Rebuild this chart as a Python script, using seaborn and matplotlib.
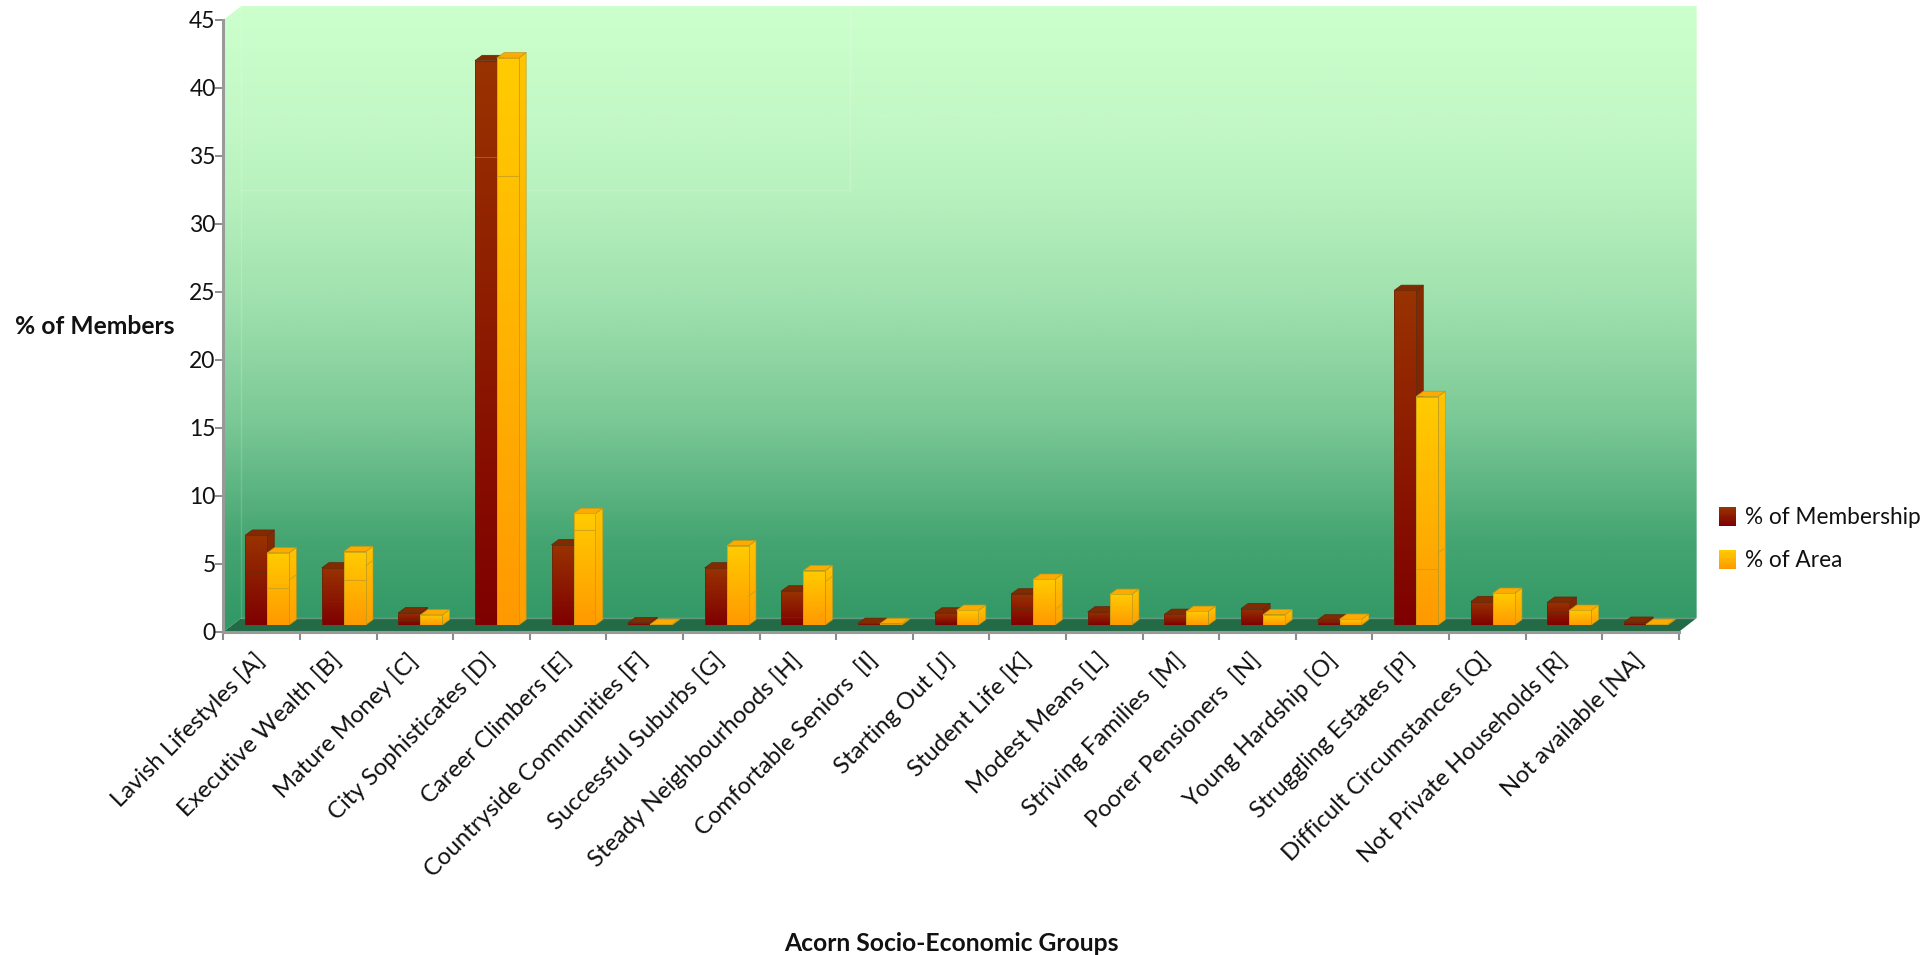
import numpy as np
import pandas as pd
import matplotlib
matplotlib.use("Agg")
import matplotlib.pyplot as plt
import seaborn as sns
from matplotlib.colors import LinearSegmentedColormap
from matplotlib.legend_handler import HandlerBase
from matplotlib.patches import Patch, Polygon, Rectangle

categories = [
    "Lavish Lifestyles [A]", "Executive Wealth [B]", "Mature Money [C]",
    "City Sophisticates [D]", "Career Climbers [E]", "Countryside Communities [F]",
    "Successful Suburbs [G]", "Steady Neighbourhoods [H]", "Comfortable Seniors  [I]",
    "Starting Out [J]", "Student Life [K]", "Modest Means [L]",
    "Striving Families  [M]", "Poorer Pensioners  [N]", "Young Hardship [O]",
    "Struggling Estates [P]", "Difficult Circumstances [Q]",
    "Not Private Households [R]", "Not available [NA]",
]
membership = [6.6, 4.2, 0.9, 41.5, 5.9, 0.17, 4.2, 2.5, 0.12, 0.88,
              2.28, 0.96, 0.78, 1.2, 0.37, 24.6, 1.72, 1.67, 0.2]
area = [5.3, 5.4, 0.74, 41.7, 8.2, 0.05, 5.83, 4.0, 0.1, 1.08,
        3.36, 2.25, 1.0, 0.76, 0.42, 16.8, 2.33, 1.08, 0.05]
series_names = ["% of Membership", "% of Area"]
y_ticks = [0, 5, 10, 15, 20, 25, 30, 35, 40, 45]

# Faint seams that run across the bar faces, as heights on the value axis
seam_membership = [3.9, 1.76, 0.37, 34.4, None, None, None, 0.56, None, None,
                   1.27, None, None, None, None, None, None, 0.95, None]
seam_area = [2.7, 3.3, None, 33.0, 7.0, None, None, None, None, None,
             None, None, None, None, None, 4.1, None, None, None]
seam_area_side = [3.3, 4.36, None, None, None, None, 2.13, 3.19, None, None,
                  1.15, None, None, None, None, 5.3, None, None, None]

MEMBER_TOP, MEMBER_BOTTOM = "#993300", "#7F0000"
AREA_TOP, AREA_BOTTOM = "#FFCC00", "#FF9900"
# Wall shading: position down the wall (0 to 1) against blend towards the dark end
WALL_TOP, WALL_BOTTOM = "#CCFFCC", "#339966"
WALL_STOPS = [(0.0, 0.0), (0.19, 0.065), (0.30, 0.13), (0.40, 0.22), (0.48, 0.29),
              (0.676, 0.53), (0.873, 0.88), (1.0, 1.0)]
FLOOR = "#236B47"
AXIS_GREY = "#999999"
INK = "#111111"

W, H = 1928, 955
FRONT_L, FRONT_R, FRONT_BASE, FRONT_TOP = 223.3, 1678.7, 632.0, 20.0
WALL_DX, WALL_DY = 18.0, 14.0
BAR_DX, BAR_DY = 5.5, 7.0
DEPTH_X, DEPTH_Y = 7.3, 5.3
TICK_PT, CAT_PT, LEGEND_PT, TITLE_PT = 16.5, 17.2, 16.3, 17.7

sns.set_theme(style="white")
plt.rcParams["font.family"] = ["Lato", "DejaVu Sans"]

fig = plt.figure(figsize=(W / 100, H / 100), dpi=100, facecolor="white")


def px_axes(left, right, top, bottom, **kw):
    return fig.add_axes([left / W, 1 - bottom / H, (right - left) / W, (bottom - top) / H], **kw)


def gradient(axis, top, bottom, extent, clip=None, z=1.0):
    cmap = LinearSegmentedColormap.from_list("g", [top, bottom])
    im = axis.imshow(np.linspace(0, 1, 256).reshape(-1, 1), cmap=cmap, extent=extent,
                     aspect="auto", interpolation="bilinear", zorder=z, origin="upper")
    if clip is not None:
        clip.set_transform(axis.transData)
        im.set_clip_path(clip)
    return im


# Backdrop: left and back walls, floor and the pale construction lines
bg = px_axes(0, W, 0, H, zorder=0)
bg.set_xlim(0, W)
bg.set_ylim(H, 0)
bg.axis("off")
bg.set_autoscale_on(False)
wb_l, wb_r = FRONT_L + WALL_DX, FRONT_R + WALL_DX
wb_t, wb_b = FRONT_TOP - WALL_DY, FRONT_BASE - WALL_DY
outline = Polygon([(FRONT_L, FRONT_TOP), (wb_l, wb_t), (wb_r, wb_t), (wb_r, wb_b),
                   (FRONT_R, FRONT_BASE), (FRONT_L, FRONT_BASE)], closed=True)
outline.set_transform(bg.transData)
rows = np.linspace(0, 1, 512)
blend = np.interp(rows, *zip(*WALL_STOPS))
wall_cmap = LinearSegmentedColormap.from_list("wall", [WALL_TOP, WALL_BOTTOM])
wall = bg.imshow(blend.reshape(-1, 1), cmap=wall_cmap, vmin=0, vmax=1,
                 extent=(FRONT_L, wb_r, wb_b, wb_t), aspect="auto", interpolation="bilinear",
                 origin="upper", zorder=1)
wall.set_clip_path(outline)
bg.add_patch(Polygon([(FRONT_L, FRONT_BASE), (wb_l, wb_b), (FRONT_L, wb_b)], closed=True,
                     facecolor=WALL_BOTTOM, edgecolor="none", zorder=1.5))
bg.add_patch(Polygon([(FRONT_L, FRONT_BASE), (wb_l, wb_b), (wb_r, wb_b), (FRONT_R, FRONT_BASE)],
                     closed=True, facecolor=FLOOR, edgecolor="none", zorder=2))
pale = dict(color="white", alpha=0.16, lw=1.0, zorder=3)
bg.plot([wb_l, wb_l], [wb_t, wb_b], **pale)
bg.plot([wb_l, wb_r], [wb_b, wb_b], color="white", alpha=0.3, lw=1.0, zorder=3)
bg.plot([wb_r, wb_r], [wb_t, wb_b], color="white", alpha=0.3, lw=1.0, zorder=3)
bg.plot([wb_l, 850], [190, 190], **pale)
bg.plot([850, 850], [wb_t, 190], **pale)

# Front plane: carries the axis lines, ticks and titles
frame = px_axes(FRONT_L, FRONT_R, FRONT_TOP, FRONT_BASE, zorder=1)
frame.patch.set_visible(False)
frame.set_xlim(-0.5, len(categories) - 0.5)
frame.set_ylim(0, 45)
frame.set_yticks(y_ticks)
frame.set_xticks(np.arange(len(categories) + 1) - 0.5)
frame.set_xticklabels([])
frame.set_xticks(np.arange(len(categories)), minor=True)
frame.set_xticklabels(categories, minor=True, rotation=45, ha="right", va="center",
                      rotation_mode="anchor", fontsize=CAT_PT, color=INK)
frame.tick_params(axis="x", which="minor", length=0, pad=18)
frame.tick_params(axis="x", which="major", length=6, width=1.5, color="#8C8C8C", bottom=True)
frame.tick_params(axis="y", length=5.5, width=1.4, color="#8C8C8C", left=True, pad=0,
                  labelsize=TICK_PT, labelcolor=INK)
for name, spine in frame.spines.items():
    spine.set_visible(name in ("left", "bottom"))
    spine.set_color(AXIS_GREY)
    spine.set_linewidth(2.2)
frame.set_xlabel("Acorn Socio-Economic Groups", fontsize=TITLE_PT, fontweight="bold", color=INK)
frame.xaxis.set_label_coords(0.5, (FRONT_BASE - 943) / (FRONT_BASE - FRONT_TOP), frame.transAxes)
frame.xaxis.label.set_va("center")
frame.set_ylabel("% of Members", fontsize=TITLE_PT, fontweight="bold", rotation=0,
                 ha="center", va="center", color=INK)
frame.yaxis.set_label_coords((95 - FRONT_L) / (FRONT_R - FRONT_L),
                             (FRONT_BASE - 327) / (FRONT_BASE - FRONT_TOP), frame.transAxes)

# Bars sit on a plane set back from the axis lines
ax = px_axes(FRONT_L + BAR_DX, FRONT_R + BAR_DX, FRONT_TOP - BAR_DY, FRONT_BASE - BAR_DY, zorder=2)
ax.patch.set_visible(False)
table = pd.DataFrame({
    "group": categories * 2,
    "share": membership + area,
    "series": [series_names[0]] * len(categories) + [series_names[1]] * len(categories),
})
sns.barplot(data=table, x="group", y="share", hue="series", hue_order=series_names,
            palette=[MEMBER_TOP, AREA_TOP], width=0.574, gap=0, dodge=True, legend=False,
            saturation=1, ax=ax)
ax.set_xlim(-0.5, len(categories) - 0.5)
ax.set_ylim(0, 45)
ax.set_autoscale_on(False)
ax.axis("off")

ddx = DEPTH_X * (len(categories) / (FRONT_R - FRONT_L))
ddy = DEPTH_Y * (45 / (FRONT_BASE - FRONT_TOP))

face_style = [
    dict(front=(MEMBER_TOP, MEMBER_BOTTOM), side=("#862C00", "#7A1500"), cap="#822B00",
         edge="#5E2A10", seams=seam_membership, side_seams=[None] * len(categories)),
    dict(front=(AREA_TOP, AREA_BOTTOM), side=("#FFC400", "#FF9F00"), cap="#FFAA00",
         edge="#B99A1E", seams=seam_area, side_seams=seam_area_side),
]

for s, container in enumerate(ax.containers):
    style = face_style[s]
    for i, bar in enumerate(container):
        x0, w, h = bar.get_x(), bar.get_width(), bar.get_height()
        x1 = x0 + w
        z = 3 + 0.01 * (2 * i + s)
        # Seams read lighter than the face on the tall bars and darker on the short ones
        if s == 1:
            seam_colour = "#C9A020"
        else:
            seam_colour = "#B0602A" if h > 20 else "#6B2A08"
        side = Polygon([(x1, 0), (x1 + ddx, ddy), (x1 + ddx, h + ddy), (x1, h)], closed=True)
        gradient(ax, *style["side"], (x1, x1 + ddx, 0, h + ddy), clip=side, z=z)
        ax.add_patch(Polygon([(x1, 0), (x1 + ddx, ddy), (x1 + ddx, h + ddy), (x1, h)], closed=True,
                             facecolor="none", edgecolor=style["edge"], lw=0.6, alpha=0.7, zorder=z + 0.001))
        ax.add_patch(Polygon([(x0, h), (x1, h), (x1 + ddx, h + ddy), (x0 + ddx, h + ddy)], closed=True,
                             facecolor=style["cap"], edgecolor=style["edge"], lw=0.5, zorder=z + 0.002))
        bar.set_zorder(z + 0.003)
        bar.set_edgecolor("none")
        gradient(ax, *style["front"], (x0, x1, 0, h),
                 clip=Rectangle((x0, 0), w, h), z=z + 0.004)
        ax.add_patch(Rectangle((x0, 0), w, h, facecolor="none", edgecolor=style["edge"],
                               lw=0.6, alpha=0.8, zorder=z + 0.005))
        if style["seams"][i] is not None:
            ax.plot([x0, x1], [style["seams"][i]] * 2, color=seam_colour, lw=0.8, alpha=0.8,
                    zorder=z + 0.006)
        if style["side_seams"][i] is not None:
            level = style["side_seams"][i]
            ax.plot([x1, x1 + ddx], [level, level + ddy], color=seam_colour, lw=0.8, alpha=0.8,
                    zorder=z + 0.006)


class GradientSwatch(HandlerBase):
    """Legend key painted as a stack of thin strips running between two colours."""

    def __init__(self, top, bottom):
        super().__init__()
        self.top, self.bottom = top, bottom

    def create_artists(self, legend, orig_handle, xdescent, ydescent, width, height, fontsize, trans):
        cmap = LinearSegmentedColormap.from_list("s", [self.top, self.bottom])
        steps = 16
        strips = []
        for k in range(steps):
            strips.append(Rectangle((-xdescent, -ydescent + height * (1 - (k + 1) / steps)),
                                    width, height / steps + 0.2, facecolor=cmap(k / (steps - 1)),
                                    edgecolor="none", transform=trans))
        return strips


h_member = Patch(label=series_names[0])
h_area = Patch(label=series_names[1])
fig.legend(handles=[h_member, h_area], loc="upper left",
           bbox_to_anchor=(1712 / W, 1 - 500 / H), frameon=False, fontsize=LEGEND_PT,
           labelcolor=INK, handlelength=0.75, handleheight=0.95, handletextpad=0.4,
           labelspacing=0.95, borderpad=0.3, borderaxespad=0,
           handler_map={h_member: GradientSwatch(MEMBER_TOP, MEMBER_BOTTOM),
                        h_area: GradientSwatch(AREA_TOP, AREA_BOTTOM)})

fig.savefig("out.png", dpi=100, facecolor="white")
